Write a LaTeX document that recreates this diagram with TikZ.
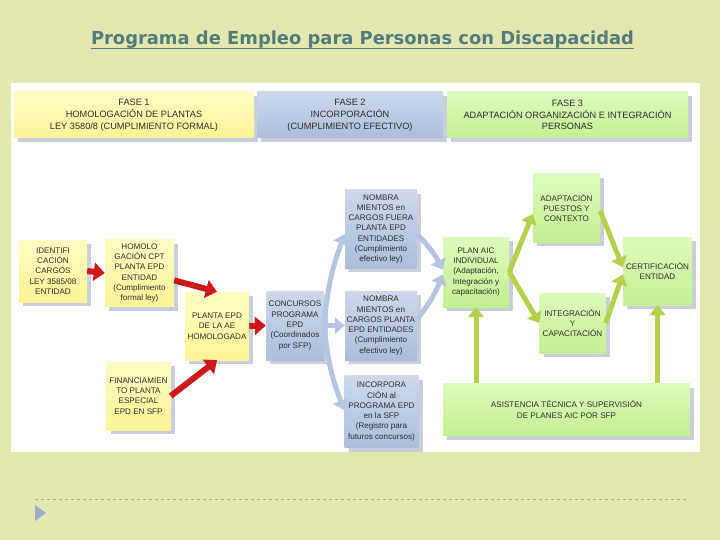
\documentclass[tikz,border=0pt]{standalone}
\usepackage{fontspec}
\setmainfont{Liberation Sans}
\newfontfamily\titlefont{DejaVu Sans}
\usetikzlibrary{arrows.meta,shadows}
\definecolor{bgc}{RGB}{227,232,176}
\definecolor{titlec}{RGB}{82,124,126}
\definecolor{txtc}{RGB}{45,45,45}
\definecolor{shadc}{RGB}{200,206,218}
\definecolor{yA}{RGB}{255,252,195}
\definecolor{yB}{RGB}{252,244,150}
\definecolor{bA}{RGB}{205,216,235}
\definecolor{bB}{RGB}{172,190,220}
\definecolor{gA}{RGB}{222,250,190}
\definecolor{gB}{RGB}{196,240,145}
\definecolor{redc}{RGB}{205,25,25}
\definecolor{bluec}{RGB}{182,198,226}
\definecolor{greenc}{RGB}{178,210,78}
\definecolor{dashc}{RGB}{165,170,160}
\definecolor{tric}{RGB}{150,175,205}
\tikzset{
  sz/.style 2 args={minimum width=#1pt, minimum height=#2pt},
  box/.style={draw=none, align=center, inner sep=1pt, text=txtc,
    font=\fontsize{8.1}{10.3}\selectfont,
    drop shadow={shadow xshift=4pt, shadow yshift=-4pt, fill=shadc, opacity=1}},
  ybox/.style={box, top color=yA, bottom color=yB},
  bbox/.style={box, top color=bA, bottom color=bB},
  gbox/.style={box, top color=gA, bottom color=gB},
  hdr/.style={font=\fontsize{9.2}{11.8}\selectfont},
  redarr/.style={draw=redc, line width=6pt, -{Triangle[length=11pt,width=18pt]}},
  bluearr/.style={draw=bluec, line width=5pt, -{Triangle[length=10pt,width=16pt]}},
  greenarr/.style={draw=greenc, line width=5pt, -{Triangle[length=10pt,width=16pt]}}
}
\begin{document}
\begin{tikzpicture}[x=1pt,y=1pt]
\fill[bgc] (0,0) rectangle (720,-540);
\useasboundingbox (0,0) rectangle (720,-540);
% title
\node[anchor=base, text=titlec, font=\titlefont\bfseries\fontsize{17.9}{21}\selectfont, inner sep=0pt] (title) at (362.5,-45) {Programa de Empleo para Personas con Discapacidad};
\draw[titlec, line width=1.2pt] ([yshift=-3.5pt]title.base west) -- ([yshift=-3.5pt]title.base east);
% white panel
\fill[white] (11,-83) rectangle (700,-452);
% headers
\node[ybox, hdr, sz={240}{46}] (f1) at (134,-115) {FASE 1\\HOMOLOGACIÓN DE PLANTAS\\LEY 3580/8 (CUMPLIMIENTO FORMAL)};
\node[bbox, hdr, sz={186}{46}] (f2) at (350,-115) {FASE 2\\INCORPORACIÓN\\(CUMPLIMIENTO EFECTIVO)};
\node[gbox, hdr, sz={241}{46}] (f3) at (567.5,-115) {FASE 3\\ADAPTACIÓN ORGANIZACIÓN E INTEGRACIÓN\\PERSONAS};
% phase 1 nodes
\node[ybox, sz={68}{62}] (ident) at (53,-271) {IDENTIFI\\CACIÓN\\CARGOS\\LEY 3585/08\\ENTIDAD};
\node[ybox, sz={69}{67}] (homol) at (139.5,-273) {HOMOLO\\GACIÓN CPT\\PLANTA EPD\\ENTIDAD\\(Cumplimiento\\formal ley)};
\node[ybox, sz={64}{68}] (planta) at (217,-326) {PLANTA EPD\\DE LA AE\\HOMOLOGADA};
\node[ybox, sz={64}{68}] (financ) at (138.5,-396) {FINANCIAMIEN\\TO PLANTA\\ESPECIAL\\EPD EN SFP};
% phase 2 nodes
\node[bbox, sz={58}{69}] (concur) at (295,-325.5) {CONCURSOS\\PROGRAMA\\EPD\\(Coordinados\\por SFP)};
\node[bbox, sz={72}{78}] (nomb1) at (381,-229) {NOMBRA\\MIENTOS en\\CARGOS FUERA\\PLANTA EPD\\ENTIDADES\\(Cumplimiento\\efectivo ley)};
\node[bbox, sz={72}{69}] (nomb2) at (381,-325.5) {NOMBRA\\MIENTOS en\\CARGOS PLANTA\\EPD ENTIDADES\\(Cumplimiento\\efectivo ley)};
\node[bbox, sz={74}{72}] (incorp) at (381.5,-411.5) {INCORPORA\\CIÓN al\\PROGRAMA EPD\\en la SFP\\(Registro para\\futuros concursos)};
% phase 3 nodes
\node[gbox, sz={66}{70}] (plan) at (476,-272) {PLAN AIC\\INDIVIDUAL\\(Adaptación,\\Integración y\\capacitación)};
\node[gbox, sz={67}{68}] (adapt) at (566.5,-208) {ADAPTACIÓN\\PUESTOS Y\\CONTEXTO};
\node[gbox, sz={66}{60}] (integ) at (572.5,-323) {INTEGRACIÓN\\Y\\CAPACITACIÓN};
\node[gbox, sz={69}{68}] (certif) at (657.5,-271) {CERTIFICACIÓN\\ENTIDAD};
\node[gbox, sz={247}{52}] (asist) at (566.5,-409.5) {ASISTENCIA TÉCNICA Y SUPERVISIÓN\\DE PLANES AIC POR SFP};
% red arrows
\draw[redarr] (ident.east) -- (homol.west);
\draw[redarr] (homol.-12) -- (planta.north);
\draw[redarr] (financ.east) -- (planta.south);
\draw[redarr] (planta.east) -- (concur.west);
% blue arrows
\draw[bluearr] (concur.east) to[bend left=8] (nomb1.188);
\draw[bluearr] (concur.east) -- (nomb2.west);
\draw[bluearr] (concur.east) to[bend right=8] (incorp.178);
\draw[bluearr] (nomb1.-8) to[bend left=8] (plan.176);
\draw[bluearr] (nomb2.10) to[bend right=8] (plan.184);
% green arrows
\draw[greenarr] (plan.east) -- (adapt.190);
\draw[greenarr] (plan.east) -- (integ.west);
\draw[greenarr] (adapt.-5) -- (certif.174);
\draw[greenarr] (integ.east) -- (certif.186);
\draw[greenarr] (asist.north -| plan.south) -- (plan.south);
\draw[greenarr] (asist.north -| certif.south) -- (certif.south);
% footer
\draw[dashc, dashed, line width=0.6pt] (35,-499) -- (686,-499);
\fill[tric] (35,-505) -- (46,-513) -- (35,-521) -- cycle;
\end{tikzpicture}
\end{document}
